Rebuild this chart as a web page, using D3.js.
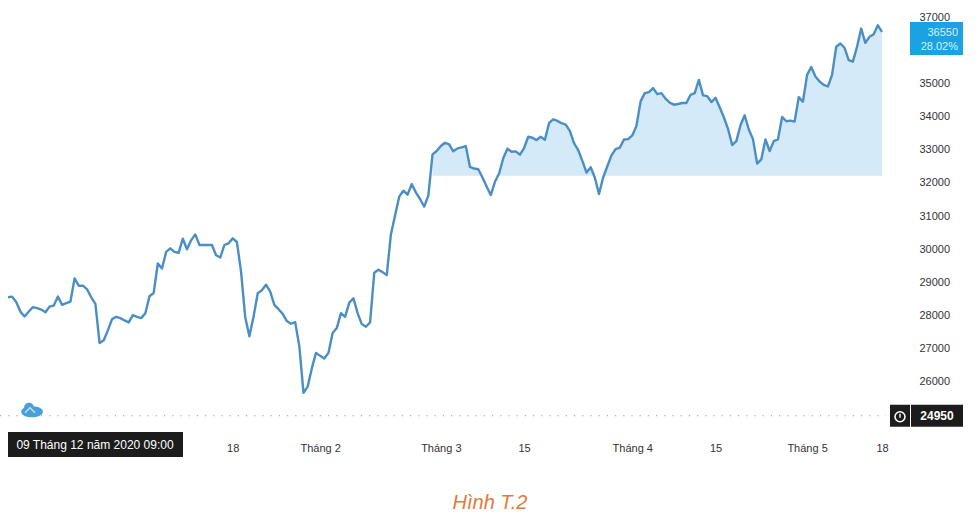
<!DOCTYPE html>
<html><head><meta charset="utf-8">
<script src="https://cdn.jsdelivr.net/npm/d3@7"></script>
<style>
html,body{margin:0;padding:0;background:#fff;}
svg{display:block;font-family:"Liberation Sans",Arial,sans-serif;}
</style></head>
<body><svg id="c" width="980" height="518"></svg>
<script>
// Price per trading session (two sessions per trading day), 09/12/2020 -> 18/05/2021
const prices = [
28530,28550,28380,28090,27950,28100,28230,28200,28160,28080,
28250,28280,28550,28300,28350,28400,29100,28880,28880,28770,
28530,28330,27150,27230,27530,27870,27940,27900,27830,27770,
27990,27940,27900,28050,28560,28660,29550,29400,29900,30010,
29900,29870,30300,29980,30250,30430,30110,30110,30110,30110,
29800,29730,30110,30160,30310,30200,29300,27930,27350,27940,
28650,28740,28910,28700,28300,28170,28030,27810,27730,27780,
27050,25640,25830,26380,26850,26760,26680,26850,27450,27600,
28050,27940,28370,28500,28050,27720,27640,27770,29270,29360,
29290,29200,30430,31000,31570,31750,31630,31950,31700,31500,
31270,31600,32850,32950,33100,33200,33150,32940,33030,33060,
33100,32470,32420,32400,32150,31880,31620,32020,32270,32730,
33020,32930,32940,32840,33040,33380,33350,33280,33380,33290,
33790,33910,33860,33790,33750,33560,33190,32980,32650,32300,
32460,32150,31650,32150,32490,32820,33010,33050,33300,33310,
33420,33710,34450,34700,34730,34850,34670,34700,34530,34410,
34350,34370,34400,34400,34650,34700,35100,34630,34610,34430,
34560,34270,33970,33620,33130,33250,33730,34030,33600,33310,
32570,32700,33300,32950,33250,33300,33980,33850,33870,33840,
34580,34440,35250,35490,35200,35050,34950,34900,35250,36100,
36200,36070,35700,35650,36100,36650,36220,36400,36480,36750,
36550];
const sessions = prices.map((_, i) => i);
const yTicks = [26000,27000,28000,29000,30000,31000,32000,33000,34000,35000,37000];
const xTickLabels = ["18","Tháng 2","Tháng 3","15","Tháng 4","15","Tháng 5","18"];
const xTickSessions = [54,75,104,124,150,170,192,210];
const lastPrice = 36550, lastChange = "28.02%";
const basePrice = 24950;
const fillBase = 32200, fillFrom = 102;
const startLabel = "09 Tháng 12 năm 2020  09:00";
const caption = "Hình T.2";

const svg = d3.select("#c");
const x = d3.scaleLinear().domain([0, 210]).range([8, 882]);
const y = d3.scaleLinear().domain([26000, 37000]).range([381, 17]);

// shaded area above baseline
const fillData = sessions.filter(s => s >= fillFrom);
svg.append("path")
  .datum(fillData)
  .attr("fill", "#d5eaf8")
  .attr("d", d3.area()
    .x(s => x(s))
    .y0(y(fillBase))
    .y1(s => y(Math.max(prices[s], fillBase))));

// line
svg.append("path")
  .datum(sessions)
  .attr("fill", "none")
  .attr("stroke", "#4a8ec4")
  .attr("stroke-width", 2.4)
  .attr("stroke-linejoin", "round")
  .attr("d", d3.line().x(s => x(s)).y(s => y(prices[s])));

// base dotted line
svg.append("line")
  .attr("x1", 0).attr("x2", 886)
  .attr("y1", y(basePrice)).attr("y2", y(basePrice))
  .attr("stroke", "#999").attr("stroke-width", 1.2)
  .attr("stroke-dasharray", "1.2,7");

// y-axis
const yAxis = d3.axisRight(y).tickValues(yTicks).tickSize(0).tickFormat(d3.format("d"));
const ya = svg.append("g").attr("transform", "translate(918,0)").call(yAxis);
ya.select(".domain").remove();
ya.selectAll("text").attr("font-size", 11).attr("fill", "#333").attr("x", 32).attr("text-anchor", "end")
  .attr("font-family", "Liberation Sans, Arial, sans-serif");

// x-axis
const xa = svg.append("g").attr("transform", "translate(0,441)")
  .call(d3.axisBottom(x).tickValues(xTickSessions).tickSize(0)
    .tickFormat((d, i) => xTickLabels[i]));
xa.select(".domain").remove();
xa.selectAll("text").attr("font-size", 11).attr("fill", "#333")
  .attr("font-family", "Liberation Sans, Arial, sans-serif");

// start date label
svg.append("rect").attr("x", 8).attr("y", 432).attr("width", 175).attr("height", 25).attr("fill", "#1c1c1c");
svg.append("text").attr("x", 95).attr("y", 449).attr("text-anchor", "middle")
  .attr("font-size", 12).attr("fill", "#fff").text(startLabel);

// last price label
svg.append("rect").attr("x", 910).attr("y", 22).attr("width", 53).attr("height", 33).attr("fill", "#1aa3e0");
svg.append("text").attr("x", 958).attr("y", 36).attr("text-anchor", "end").attr("font-size", 11)
  .attr("fill", "#d8f0ff").text(lastPrice);
svg.append("text").attr("x", 958).attr("y", 50).attr("text-anchor", "end").attr("font-size", 11)
  .attr("fill", "#d8f0ff").text(lastChange);

// base price label
const by = y(basePrice);
svg.append("rect").attr("x", 890).attr("y", by - 11).attr("width", 20).attr("height", 22).attr("fill", "#1c1c1c");
svg.append("rect").attr("x", 911).attr("y", by - 11).attr("width", 52).attr("height", 22).attr("fill", "#1c1c1c");
svg.append("circle").attr("cx", 900).attr("cy", by + 1).attr("r", 5).attr("fill", "none").attr("stroke", "#fff").attr("stroke-width", 1.6);
svg.append("path").attr("d", `M900,${by-2}V${by+2}`).attr("stroke", "#fff").attr("stroke-width", 1.4);
svg.append("text").attr("x", 937).attr("y", by + 4).attr("text-anchor", "middle").attr("font-size", 12)
  .attr("font-weight", "bold").attr("fill", "#fff").text(basePrice);

// small cloud logo
const logo = svg.append("g").attr("transform", `translate(32,${by - 4})`);
logo.append("ellipse").attr("cx", 0).attr("cy", 0).attr("rx", 11).attr("ry", 5.5).attr("fill", "#4a9fd8");
logo.append("circle").attr("cx", -3).attr("cy", -4).attr("r", 5).attr("fill", "#4a9fd8");
logo.append("circle").attr("cx", 4).attr("cy", -1).attr("r", 4).attr("fill", "#4a9fd8");
logo.append("path").attr("d", "M-7,1 L-2,-4 L3,1").attr("stroke", "#bfe2f8").attr("stroke-width", 1.5).attr("fill", "none");

// caption
svg.append("text").attr("x", 490).attr("y", 509).attr("text-anchor", "middle")
  .attr("font-size", 20).attr("font-style", "italic").attr("fill", "#e07a3a")
  .text(caption);
</script>
</body></html>
